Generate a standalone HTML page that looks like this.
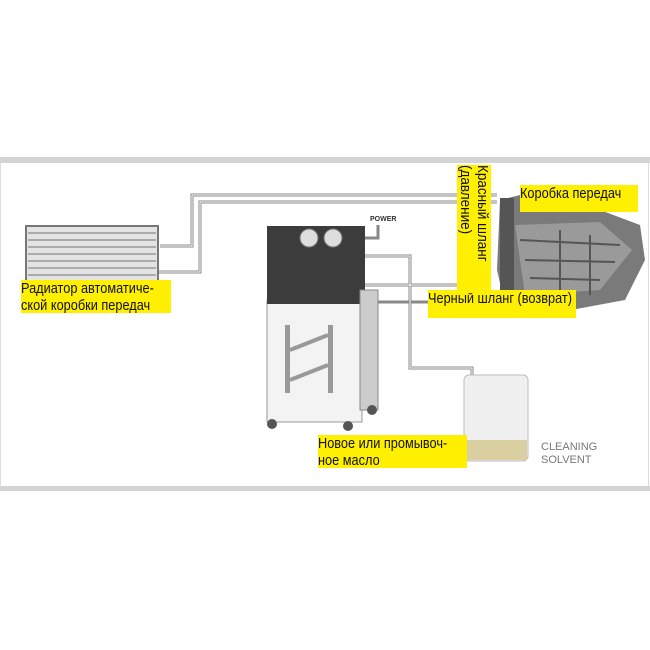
<!DOCTYPE html>
<html><head><meta charset="utf-8"><style>
html,body{margin:0;padding:0;background:#fff;width:650px;height:650px;overflow:hidden;position:relative;font-family:"Liberation Sans",sans-serif}
.lab{position:absolute;background:#ffef00;color:#111;font-size:15px;line-height:17px;white-space:nowrap}
.lab span{display:inline-block;transform:scaleX(.85);transform-origin:left}
</style></head><body>
<div style="position:absolute;left:0;top:157px;width:650px;height:6px;background:#d4d4d4"></div>
<div style="position:absolute;left:0;top:486px;width:650px;height:5px;background:#d4d4d4"></div>
<div style="position:absolute;left:0;top:163px;width:1px;height:323px;background:#ddd"></div>
<div style="position:absolute;right:1px;top:163px;width:1px;height:323px;background:#ddd"></div>
<svg width="650" height="650" style="position:absolute;left:0;top:0">
<g fill="none" stroke="#888" stroke-width="3">
<path d="M160 246 H192 V195 H497"/>
<path d="M155 272 H200 V202 H497"/>
<path d="M365 285 H475 V270"/>
<path d="M365 302 H430"/>
<path d="M365 256 H410 V368 H472 V378"/>
<path d="M365 238 H378 V225"/>
</g>
<g fill="none" stroke="#fff" stroke-width="1">
<path d="M160 246 H192 V195 H497"/>
<path d="M155 272 H200 V202 H497"/>
<path d="M365 285 H475 V270"/>
<path d="M365 256 H410 V368 H472 V378"/>
</g>
<rect x="26" y="226" width="132" height="78" fill="#e4e4e4" stroke="#777" stroke-width="2"/>
<g stroke="#999" stroke-width="1.5">
<line x1="28" y1="233" x2="156" y2="233"/><line x1="28" y1="240" x2="156" y2="240"/><line x1="28" y1="247" x2="156" y2="247"/><line x1="28" y1="254" x2="156" y2="254"/><line x1="28" y1="261" x2="156" y2="261"/><line x1="28" y1="268" x2="156" y2="268"/><line x1="28" y1="275" x2="156" y2="275"/><line x1="28" y1="282" x2="156" y2="282"/><line x1="28" y1="289" x2="156" y2="289"/><line x1="28" y1="296" x2="156" y2="296"/>
</g>
<rect x="267" y="300" width="95" height="122" fill="#f3f3f3" stroke="#999"/>
<rect x="267" y="226" width="98" height="78" fill="#3c3c3c"/>
<circle cx="309" cy="238" r="9" fill="#ddd" stroke="#777"/>
<circle cx="333" cy="238" r="9" fill="#ddd" stroke="#777"/>
<rect x="285" y="325" width="5" height="68" fill="#999"/>
<rect x="328" y="325" width="5" height="68" fill="#999"/>
<path d="M290 350 L328 335 M290 380 L328 365" stroke="#999" stroke-width="4"/>
<rect x="360" y="290" width="18" height="120" fill="#ccc" stroke="#888"/>
<circle cx="272" cy="424" r="5" fill="#555"/><circle cx="348" cy="426" r="5" fill="#555"/><circle cx="372" cy="410" r="5" fill="#555"/>
<text x="370" y="221" font-size="7" font-weight="bold" fill="#333" font-family="Liberation Sans">POWER</text>
<path d="M500 200 L520 195 L600 210 L640 225 L645 260 L625 300 L560 312 L505 305 L497 270 Z" fill="#7a7a7a"/>
<path d="M515 225 L600 222 L632 250 L600 290 L525 295 Z" fill="#9a9a9a"/>
<g stroke="#555" stroke-width="2" fill="none"><path d="M520 240 L620 245 M525 260 L615 262 M530 278 L600 280 M560 230 V300 M590 235 V295"/></g>
<rect x="500" y="198" width="14" height="105" fill="#555"/>
<rect x="464" y="375" width="64" height="86" rx="5" fill="#f0f0f0" stroke="#bbb"/>
<rect x="465" y="440" width="62" height="20" fill="#d9cfa0"/>
<text x="541" y="450" font-size="11" fill="#777" font-family="Liberation Sans">CLEANING</text>
<text x="541" y="463" font-size="11" fill="#777" font-family="Liberation Sans">SOLVENT</text>
</svg>
<div class="lab" style="left:21px;top:280px;width:150px;height:33px"><span>Радиатор автоматиче-<br>ской коробки передач</span></div>
<div class="lab" style="left:520px;top:185px;width:118px;height:27px"><span>Коробка передач</span></div>
<div class="lab" style="left:428px;top:290px;width:148px;height:28px"><span>Черный шланг (возврат)</span></div>
<div class="lab" style="left:318px;top:435px;width:149px;height:33px"><span>Новое или промывоч-<br>ное масло</span></div>
<div class="lab" style="left:457px;top:165px;width:34px;height:128px;"><div style="position:absolute;left:34px;top:0;transform:rotate(90deg) scaleX(.9);transform-origin:0 0;width:140px;line-height:17px;font-size:15px">Красный шланг<br>(давление)</div></div>
</body></html>
